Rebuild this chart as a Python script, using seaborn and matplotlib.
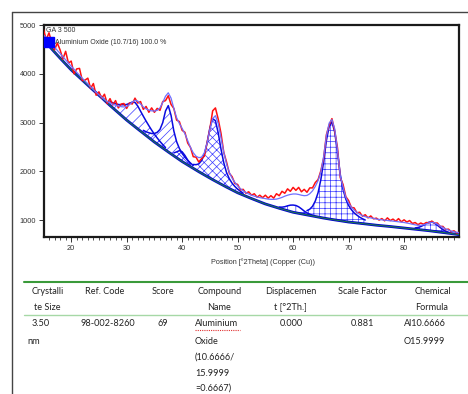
import numpy as np
import pandas as pd
import matplotlib
matplotlib.use("Agg")
import matplotlib.pyplot as plt
import seaborn as sns
from matplotlib.lines import Line2D
from matplotlib.ticker import MultipleLocator

# ---------------- data ----------------
two_theta = np.arange(15.0, 90.01, 0.5)

observed = [
    4910, 4700, 4840, 4640, 4490, 4630, 4490, 4300, 4460, 4220,
    4260, 4000, 4100, 4110, 3860, 3870, 3910, 3700, 3800, 3560,
    3630, 3500, 3580, 3390, 3490, 3360, 3450, 3300, 3380, 3390,
    3290, 3400, 3380, 3500, 3400, 3430, 3270, 3330, 3210, 3300,
    3210, 3290, 3250, 3430, 3450, 3550, 3370, 3290, 3050, 3020,
    2840, 2800, 2580, 2490, 2300, 2290, 2190, 2260, 2310, 2590,
    2870, 3240, 3300, 3070, 2780, 2390, 2190, 1960, 1890, 1750,
    1730, 1620, 1630, 1550, 1580, 1510, 1540, 1470, 1510, 1460,
    1510, 1450, 1500, 1450, 1540, 1500, 1590, 1550, 1640, 1590,
    1670, 1610, 1670, 1580, 1630, 1570, 1660, 1660, 1770, 1830,
    2010, 2270, 2750, 2950, 3080, 2830, 2480, 1870, 1730, 1480,
    1400, 1260, 1250, 1150, 1160, 1080, 1110, 1045, 1085, 1025,
    1040, 1000, 1030, 985, 1045, 990, 1020, 975, 1030, 965,
    1005, 960, 990, 930, 950, 905, 940, 915, 950, 940,
    980, 935, 940, 870, 870, 805, 815, 760, 780, 733,
    755,
]

calculated = [
    4800, 4735, 4670, 4610, 4545, 4480, 4415, 4350, 4285, 4220,
    4155, 4095, 4030, 3970, 3910, 3850, 3790, 3730, 3675, 3620,
    3570, 3520, 3470, 3430, 3400, 3375, 3355, 3340, 3325, 3320,
    3330, 3365, 3420, 3455, 3440, 3380, 3320, 3280, 3255, 3240,
    3235, 3250, 3300, 3410, 3540, 3610, 3500, 3290, 3100, 2980,
    2880, 2770, 2630, 2490, 2380, 2310, 2280, 2290, 2380, 2580,
    2860, 3080, 3140, 2980, 2690, 2390, 2150, 1980, 1860, 1775,
    1700, 1645, 1600, 1565, 1535, 1510, 1490, 1475, 1460, 1450,
    1440, 1430, 1425, 1425, 1430, 1445, 1465, 1490, 1510, 1525,
    1535, 1535, 1525, 1510, 1500, 1505, 1540, 1600, 1690, 1810,
    1990, 2300, 2730, 2990, 3060, 2870, 2440, 1900, 1680, 1470,
    1350, 1265, 1205, 1160, 1120, 1090, 1070, 1055, 1045, 1035,
    1020, 1012, 1005, 998, 992, 985, 978, 972, 965, 958,
    950, 940, 928, 914, 902, 894, 893, 902, 922, 945,
    955, 945, 915, 880, 848, 818, 795, 775, 760, 748,
    738,
]

background = [
    4700, 4635, 4570, 4508, 4445, 4383, 4320, 4260, 4200, 4140,
    4080, 4028, 3975, 3923, 3870, 3818, 3765, 3713, 3660, 3610,
    3560, 3508, 3455, 3403, 3350, 3300, 3250, 3200, 3150, 3100,
    3050, 3004, 2958, 2913, 2868, 2824, 2780, 2735, 2690, 2645,
    2600, 2559, 2518, 2478, 2437, 2397, 2357, 2318, 2278, 2239,
    2200, 2165, 2130, 2095, 2060, 2026, 1992, 1959, 1925, 1893,
    1860, 1829, 1798, 1767, 1736, 1706, 1676, 1647, 1617, 1589,
    1560, 1536, 1512, 1489, 1465, 1442, 1419, 1397, 1374, 1352,
    1330, 1312, 1294, 1277, 1259, 1242, 1225, 1209, 1192, 1176,
    1160, 1149, 1137, 1126, 1115, 1104, 1093, 1082, 1071, 1061,
    1050, 1041, 1031, 1022, 1013, 1004, 995, 986, 977, 969,
    960, 954, 947, 941, 934, 928, 921, 915, 908, 902,
    895, 890, 884, 879, 873, 868, 862, 857, 851, 846,
    840, 834, 827, 821, 814, 808, 801, 795, 788, 782,
    775, 768, 760, 753, 745, 738, 730, 723, 715, 708,
    700,
]

# peak profiles: heights above background, 0.5 deg steps from their start angle
peak_start = [27.0, 33.0, 38.5, 42.0, 57.5, 62.5, 82.0]
peak_1 = [80, 105, 135, 170, 215, 265, 320, 390, 460, 500, 470, 410, 350, 295, 245, 200, 160, 125, 95, 70, 50]
peak_2 = [60, 75, 100, 130, 175, 240, 340, 520, 800, 950, 790, 510, 330, 230, 165, 125, 95, 75, 60]
peak_3 = [60, 120, 185, 200, 160, 100, 55]
peak_4 = [80, 110, 160, 260, 420, 690, 1030, 1250, 1240, 1020, 720, 470, 300, 200, 140, 100, 75, 55, 40]
peak_5 = [25, 40, 65, 100, 130, 148, 150, 135, 105, 70, 45, 28, 15]
peak_6 = [90, 130, 200, 320, 500, 780, 1150, 1600, 1900, 2000, 1800, 1400, 950, 650, 460, 340, 260, 200, 160, 125, 100, 80]
peak_7 = [25, 40, 65, 100, 145, 175, 185, 170, 135, 95, 60, 35, 20]
peak_hatch = ["///", "////", "xxxx", "xxxx", "++", "+++", "+++"]

x_ticks = [20, 30, 40, 50, 60, 70, 80]
y_ticks = [1000, 2000, 3000, 4000, 5000]

sample_name = "GA 3 500"
phase_label = "Aluminium Oxide (10.7/16) 100.0 %"
x_label = "Position [°2Theta] (Copper (Cu))"

table_header_1 = ["Crystalli", "Ref. Code", "Score", "Compound", "Displacemen", "Scale Factor", "Chemical"]
table_header_2 = ["te Size", "", "", "Name", "t [°2Th.]", "", "Formula"]
crystallite_size = ["3.50", "nm"]
ref_code = "98-002-8260"
score = "69"
compound_name = ["Aluminium", "Oxide", "(10.6666/", "15.9999", "=0.6667)"]
displacement = "0.000"
scale_factor = "0.881"
chemical_formula = ["Al10.6666", "O15.9999"]

# ---------------- figure ----------------
sns.set_style("white")
plt.rcParams["font.family"] = ["Liberation Sans", "DejaVu Sans"]
plt.rcParams["hatch.linewidth"] = 0.5

W, H = 468, 394
fig = plt.figure(figsize=(W / 100, H / 100), dpi=100)

def fx(px):
    return px / W

def fy(py):
    return 1 - py / H

ax = fig.add_axes([fx(44), fy(237), fx(459) - fx(44), fy(25) - fy(237)])

df = pd.DataFrame({"two_theta": two_theta, "observed": observed,
                   "calculated": calculated, "background": background})
bg = np.array(background, dtype=float)

peaks = [peak_1, peak_2, peak_3, peak_4, peak_5, peak_6, peak_7]
for start, heights, hatch in zip(peak_start, peaks, peak_hatch):
    i0 = int(np.searchsorted(two_theta, start - 1e-6))
    n = len(heights)
    xs = two_theta[i0:i0 + n]
    base = bg[i0:i0 + n]
    top = base + np.array(heights, dtype=float)
    ax.fill_between(xs, base, top, facecolor="none", edgecolor="#3a3aff",
                    hatch=hatch, linewidth=0, zorder=2)
    sns.lineplot(x=xs, y=top, ax=ax, color="#0a0ae0", lw=1.1,
                 estimator=None, sort=False, zorder=3)

sns.lineplot(data=df, x="two_theta", y="background", ax=ax, color="#0000d0",
             lw=2.0, estimator=None, sort=False, zorder=4)
sns.lineplot(data=df, x="two_theta", y="background", ax=ax, color="#1f7a4a",
             lw=0.8, estimator=None, sort=False, zorder=4.5)
sns.lineplot(data=df, x="two_theta", y="observed", ax=ax, color="#ff1010",
             lw=1.1, estimator=None, sort=False, zorder=5)
sns.lineplot(data=df, x="two_theta", y="calculated", ax=ax, color="#6f6fff",
             lw=0.9, estimator=None, sort=False, zorder=6)

ax.set_xlim(15.1, 89.9)
ax.set_ylim(653, 5000)
ax.set_xticks(x_ticks)
ax.set_yticks(y_ticks)
ax.xaxis.set_minor_locator(MultipleLocator(1))
ax.tick_params(axis="both", which="major", direction="out", length=3.5,
               width=0.7, labelsize=5.3, pad=2, colors="#333333",
               bottom=True, left=True)
ax.tick_params(axis="x", which="minor", direction="out", length=1.8,
               width=0.6, color="#333333", bottom=True)
ax.set_xlabel("")
ax.set_ylabel("")
for sp in ax.spines.values():
    sp.set_visible(True)
    sp.set_linewidth(1.6)
    sp.set_color("#1a1a1a")

fig.text(fx(263), fy(262), x_label, fontsize=5.2, ha="center", va="center",
         color="#333333")

# legend-like annotations inside the plot
ax.text((46 - 44) / 415, (237 - 31) / 212, sample_name,
        transform=ax.transAxes, fontsize=5, ha="left", va="center",
        color="#333333", zorder=8)
ax.plot([(48.5 - 44) / 415], [(237 - 41.5) / 212], marker="s", ms=6.5,
        color="#0000ff", transform=ax.transAxes, clip_on=False, zorder=8)
ax.text((55 - 44) / 415, (237 - 42) / 212, phase_label,
        transform=ax.transAxes, fontsize=5, ha="left", va="center",
        color="#333333", zorder=8)

# page border lines
fig.add_artist(Line2D([fx(12), 1], [fy(12), fy(12)], color="#444444", lw=1.0))
fig.add_artist(Line2D([fx(12), fx(12)], [0, fy(12)], color="#444444", lw=1.0))

# table
fig.add_artist(Line2D([fx(24), 1], [fy(282), fy(282)], color="#3a9a3a", lw=1.5))
fig.add_artist(Line2D([fx(24), 1], [fy(315), fy(315)], color="#a6d8a6", lw=1.0))

tfont = dict(family=["Lato", "DejaVu Sans"], fontsize=6.6, color="#222222", va="center")
col_centres = [48, 105, 163, 220, 291, 362, 433]
for cx, h1, h2 in zip(col_centres, table_header_1, table_header_2):
    fig.text(fx(cx), fy(292), h1, ha="center", **tfont)
    if h2:
        fig.text(fx(cx - 1), fy(307), h2, ha="center", **tfont)

row_y = [324, 341, 357, 373, 388]
fig.text(fx(32), fy(row_y[0]), crystallite_size[0], ha="left", **tfont)
fig.text(fx(27), fy(row_y[1]), crystallite_size[1], ha="left", **tfont)
fig.text(fx(108), fy(row_y[0]), ref_code, ha="center", **tfont)
fig.text(fx(163), fy(row_y[0]), score, ha="center", **tfont)
for yy, s in zip(row_y, compound_name):
    fig.text(fx(195), fy(yy), s, ha="left", **tfont)
fig.text(fx(291), fy(row_y[0]), displacement, ha="center", **tfont)
fig.text(fx(362), fy(row_y[0]), scale_factor, ha="center", **tfont)
for yy, s in zip(row_y, chemical_formula):
    fig.text(fx(404), fy(yy), s, ha="left", **tfont)
# spell-check squiggle under "Aluminium"
fig.add_artist(Line2D([fx(195), fx(240)], [fy(330), fy(330)], color="#e03030",
                      lw=0.8, ls=(0, (1, 1))))

fig.savefig("out.png", dpi=100)
